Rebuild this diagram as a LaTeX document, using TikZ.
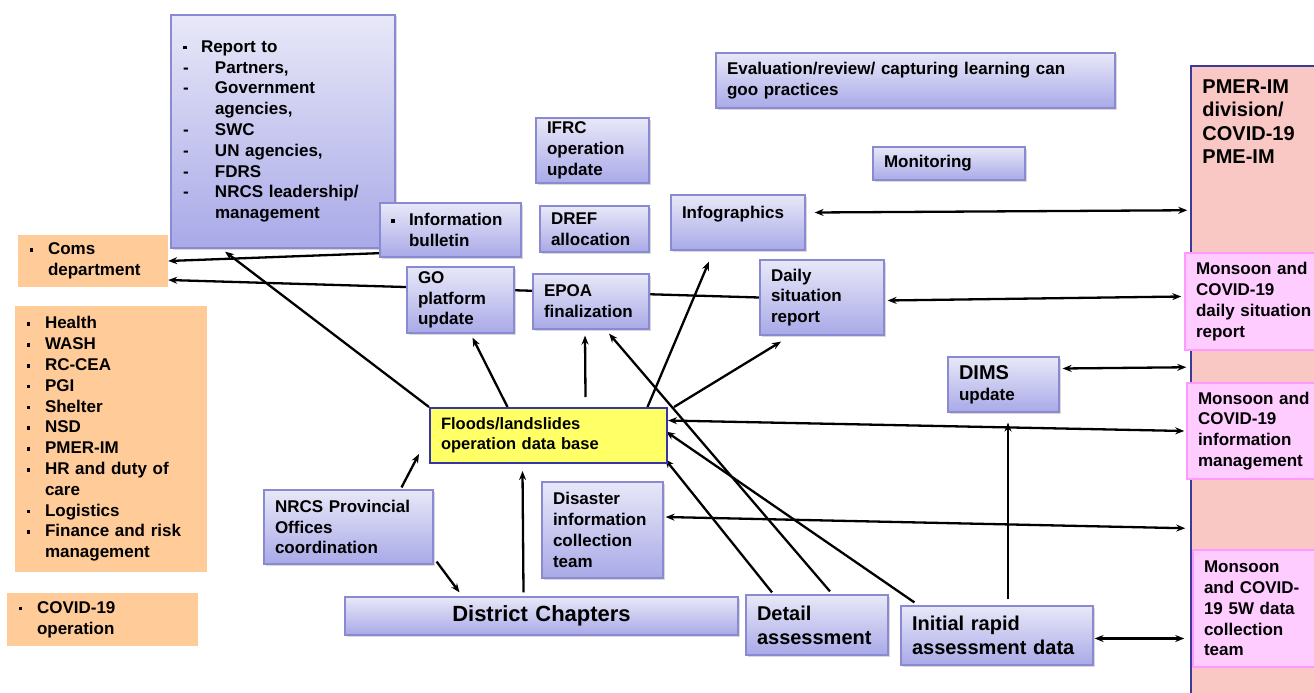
\documentclass[tikz,border=0pt]{standalone}
\usepackage{fontspec}
\setmainfont{Liberation Sans}
\usetikzlibrary{arrows.meta,backgrounds,shadows}

\definecolor{lavtop}{HTML}{E8E8F8}
\definecolor{lavbot}{HTML}{A9A9E8}
\definecolor{lavline}{HTML}{8A8AD2}
\definecolor{peach}{HTML}{FFCC99}
\definecolor{salmon}{HTML}{FAC8C4}
\definecolor{pmerline}{HTML}{3A3A9A}
\definecolor{pinkfill}{HTML}{FFCCFF}
\definecolor{pinkline}{HTML}{FF99FF}
\definecolor{dbyellow}{HTML}{FFFF66}
\definecolor{dbline}{HTML}{3535A5}

\newcommand{\blt}{\makebox[18pt][l]{\rule[3pt]{3.5pt}{3.5pt}}}
\newcommand{\dsh}{\makebox[32pt][l]{-}}

\begin{document}
\begin{tikzpicture}[x=1pt,y=-1pt]
        \tikzstyle{every node}=[font=\fontsize{17}{20.8}\selectfont\bfseries]
        \tikzstyle{lav}=[draw=lavline,line width=1.2pt,top color=lavtop,bottom color=lavbot,
                         inner xsep=11pt,align=left,
                         drop shadow={shadow xshift=1.5pt,shadow yshift=-1.5pt,opacity=.3}]
        \tikzstyle{peachbox}=[fill=peach,inner xsep=12pt,align=left]
        \tikzstyle{pinkb}=[draw=pinkline,line width=1.5pt,fill=pinkfill,inner xsep=11pt,align=left]
        \tikzstyle{db}=[draw=dbline,line width=2pt,fill=dbyellow,inner xsep=11pt,align=left,
                        font=\fontsize{16.5}{20}\selectfont\bfseries]
        \tikzstyle{big}=[font=\fontsize{20}{24}\selectfont\bfseries]
        \tikzstyle{link}=[line width=2.3pt,-{Stealth[length=9pt,width=7pt]}]
        \tikzstyle{dlink}=[line width=2.3pt,{Stealth[length=9pt,width=7pt]}-{Stealth[length=9pt,width=7pt]}]

        \useasboundingbox (0,0) rectangle (1314,693);

        % left column
        \node[peachbox,text width=126pt,minimum height=52pt] (coms) at (93,261) {\blt Coms\\ \hspace*{18pt}department};
        \node[peachbox,text width=168pt,minimum height=266pt] (health) at (111,439)
            {\blt Health\\ \blt WASH\\ \blt RC-CEA\\ \blt PGI\\ \blt Shelter\\ \blt NSD\\ \blt PMER-IM\\
             \blt HR and duty of\\ \hspace*{18pt}care\\ \blt Logistics\\ \blt Finance and risk\\ \hspace*{18pt}management};
        \node[peachbox,text width=167pt,minimum height=53pt] (covid) at (102.5,619.5) {\blt COVID-19\\ \hspace*{18pt}operation};

        % upper boxes
        \node[lav,inner xsep=12pt,text width=200pt,minimum height=233pt] (report) at (283,131.5)
            {\blt Report to\\ \dsh Partners,\\ \dsh Government\\ \hspace*{32pt}agencies,\\ \dsh SWC\\
             \dsh UN agencies,\\ \dsh FDRS\\ \dsh NRCS leadership/\\ \hspace*{32pt}management};
        \node[lav,text width=119pt,minimum height=54pt] (bulletin) at (450.5,230) {\blt Information\\ \hspace*{18pt}bulletin};
        \node[lav,text width=91pt,minimum height=65pt] (ifrc) at (592.5,150.5) {IFRC\\ operation\\ update};
        \node[lav,text width=87pt,minimum height=46pt] (dref) at (594.5,229) {DREF\\ allocation};
        \node[lav,text width=112pt,minimum height=55pt] (infog) at (738,222.5) {Infographics\\ \mbox{}};
        \node[lav,text width=85pt,minimum height=66pt] (go) at (460.5,300) {GO\\ platform\\ update};
        \node[lav,text width=94pt,minimum height=55pt] (epoa) at (591,301.5) {EPOA\\ finalization};
        \node[lav,text width=102pt,minimum height=75pt] (daily) at (822,297.5) {Daily\\ situation\\ report};
        \node[lav,text width=377pt,minimum height=55pt] (evalb) at (915.5,80.5) {Evaluation/review/ capturing learning can\\ goo practices};
        \node[lav,text width=130pt,minimum height=33pt] (monit) at (949,163.5) {Monitoring};
        \node[lav,text width=89pt,minimum height=55pt] (dims) at (1003.5,384.5)
            {\fontsize{20}{23}\selectfont DIMS\\ \fontsize{17}{23}\selectfont update};

        % middle and bottom
        \node[db,text width=215pt,minimum height=55pt] (floods) at (548.5,435.5) {Floods/landslides\\ operation data base};
        \node[lav,text width=99pt,minimum height=96pt] (disaster) at (602.5,530) {Disaster\\ information\\ collection\\ team};
        \node[lav,text width=147pt,minimum height=74pt] (nrcs) at (348.5,527) {NRCS Provincial\\ Offices\\ coordination};
        \node[lav,text width=371pt,minimum height=38pt,align=center,font=\fontsize{22}{26}\selectfont\bfseries] (district) at (541.5,616) {District Chapters};
        \node[lav,big,text width=120pt,minimum height=60pt] (detail) at (817,625) {Detail\\ assessment};
        \node[lav,big,text width=170pt,minimum height=59pt] (initial) at (997,635.5) {Initial rapid\\ assessment data};

        % right column
        \node[draw=pmerline,line width=1.5pt,fill=salmon,minimum width=130pt,minimum height=634pt] (pmer) at (1256,383) {};
        \node[anchor=north west,inner xsep=12pt,inner ysep=14pt,align=left,font=\fontsize{20}{23.5}\selectfont\bfseries] (pmertxt)
            at (pmer.north west) {PMER-IM\\ division/\\ COVID-19\\ PME-IM};
        \node[pinkb,text width=123pt,minimum height=97pt] (mdaily) at (1257.5,301.5) {Monsoon and\\ COVID-19\\ daily situation\\ report};
        \node[pinkb,text width=121pt,minimum height=96pt] (minfo) at (1258.5,431) {Monsoon and\\ COVID-19\\ information\\ management};
        \node[pinkb,text width=115pt,minimum height=117pt] (m5w) at (1261.5,608.5) {Monsoon\\ and COVID-\\ 19 5W data\\ collection\\ team};

        \begin{scope}[on background layer]
        \draw[link] ([xshift=15pt,yshift=5pt]bulletin.south west) -- (coms.east);            % bulletin->coms
        \draw[link] (daily.west) -- ([yshift=-19pt]coms.east);                                % daily->coms
        \draw[link] (floods.north west) -- ([xshift=-58pt,yshift=-3pt]report.south);           % floods->report
        \draw[link] ([xshift=-41pt]floods.north) -- ([xshift=12pt,yshift=-4pt]go.south);      % floods->go
        \draw[link] ([xshift=37pt,yshift=10pt]floods.north) -- ([xshift=-6pt,yshift=-6pt]epoa.south); % floods->epoa
        \draw[link] ([xshift=13pt,yshift=3pt]detail.north) -- ([xshift=18pt,yshift=-4pt]epoa.south);  % detail->epoa
        \draw[link] ([xshift=99pt]floods.north) -- ([xshift=-29pt,yshift=-11pt]infog.south);  % floods->infog
        \draw[link] ([xshift=6pt]floods.north east) -- ([xshift=-41pt,yshift=-6pt]daily.south); % floods->daily
        \draw[dlink] ([xshift=9pt,yshift=10pt]infog.east) -- ([xshift=-3pt,yshift=-145pt]pmer.north west); % infog<->pmer
        \draw[dlink] ([xshift=3pt,yshift=-3pt]daily.east) -- ([xshift=-3pt,yshift=5pt]mdaily.west);      % daily<->mdaily
        \draw[dlink] ([xshift=3pt,yshift=16pt]dims.east) -- ([xshift=-4pt,yshift=-302pt]pmer.north west); % dims<->pmer
        \draw[dlink] ([yshift=15pt]floods.east) -- ([xshift=-2pt]minfo.west);                 % floods<->minfo
        \draw[dlink] ([xshift=2pt,yshift=13pt]disaster.east) -- ([xshift=-5pt,yshift=-463pt]pmer.north west); % disaster<->pmer
        \draw[link] ([xshift=14pt,yshift=3pt]initial.north west) -- ([xshift=-2pt,yshift=4pt]floods.east); % initial->floods
        \draw[dlink] ([xshift=1pt,yshift=-3pt]initial.east) -- ([xshift=-8pt,yshift=-30pt]m5w.west);  % initial<->m5w
        \draw[link] ([xshift=11pt,yshift=6pt]initial.north) -- ([xshift=4.5pt,yshift=-10pt]dims.south); % initial->dims
        \draw[link] ([xshift=-45pt,yshift=2pt]detail.north) -- ([xshift=-3pt,yshift=5pt]floods.south east); % detail->floods
        \draw[link] ([xshift=53pt,yshift=2pt]nrcs.north) -- ([xshift=-10pt,yshift=10pt]floods.south west); % nrcs->floods
        \draw[link] ([xshift=3pt,yshift=3pt]nrcs.south east) -- ([xshift=-82pt,yshift=4pt]district.north); % nrcs->district
        \draw[link] ([xshift=-18pt,yshift=4pt]district.north) -- ([xshift=-26pt,yshift=-7pt]floods.south); % district->floods
        \end{scope}
\end{tikzpicture}
\end{document}
